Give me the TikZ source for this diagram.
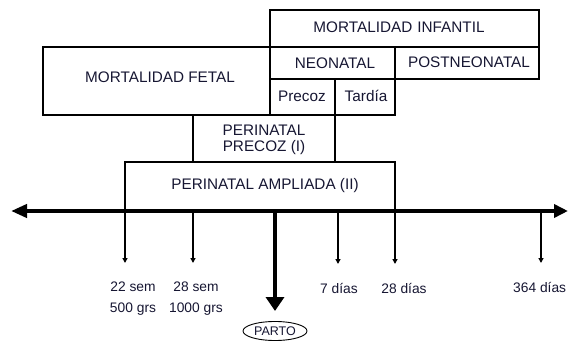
\documentclass[tikz,border=0pt]{standalone}
\usepackage{fontspec}
\setmainfont{Liberation Sans}
\usetikzlibrary{arrows.meta,shapes.geometric}
\definecolor{txt}{RGB}{22,22,50}
\begin{document}
\begin{tikzpicture}[x=1pt,y=-1pt,
  boxline/.style={draw=black,line width=1.4pt},
  lbl/.style={text=txt,font=\fontsize{15.3}{16}\selectfont,inner sep=0pt,align=center},
  small/.style={text=txt,font=\fontsize{13.8}{15}\selectfont,inner sep=0pt},
  tick/.style={line width=1.5pt,-{Triangle[length=5pt,width=5pt]}}]
\useasboundingbox (0,0) rectangle (568,342);
% boxes
\draw[boxline] (270,10) rectangle (539,47);
\draw[boxline] (43,47) rectangle (270,115);
\draw[boxline] (270,47) rectangle (395,79);
\draw[boxline] (395,47) rectangle (539,79);
\draw[boxline] (270,79) rectangle (335,115);
\draw[boxline] (335,79) rectangle (395,115);
\draw[boxline] (193,115) rectangle (335,162);
\draw[boxline] (125,211) -- (125,162) -- (395,162) -- (395,211);
% labels
\node[lbl] (inf) at (399,27) {MORTALIDAD\,\,INFANTIL};
\node[lbl] (fet) at (160,77) {MORTALIDAD FETAL};
\node[lbl] (neo) at (335,63) {NEONATAL};
\node[lbl] (post) at (469,62) {POSTNEONATAL};
\node[lbl] (pre) at (302,96) {Precoz};
\node[lbl] (tar) at (366,96) {Tardía};
\node[lbl,font=\fontsize{15.3}{15.5}\selectfont] (peri) at (264,140) {PERINATAL\\PRECOZ (I)};
\node[lbl] (amp) at (265,186) {PERINATAL AMPLIADA (II)};
% axis
\coordinate (L) at (11,211);
\coordinate (R) at (568,211);
\draw[line width=4pt,{Triangle[length=16pt,width=13pt]}-{Triangle[length=14pt,width=13pt]}] (L) -- (R);
% ticks
\coordinate (a1) at (125,211); \coordinate (b1) at (125,263);
\coordinate (a2) at (193,211); \coordinate (b2) at (193,263);
\coordinate (a3) at (338,211); \coordinate (b3) at (338,264);
\coordinate (a4) at (395,211); \coordinate (b4) at (395,264);
\coordinate (a5) at (541,211); \coordinate (b5) at (541,263);
\draw[tick] (a1) -- (b1);
\draw[tick] (a2) -- (b2);
\draw[tick] (a3) -- (b3);
\draw[tick] (a4) -- (b4);
\draw[tick] (a5) -- (b5);
% parto
\coordinate (pa) at (275,211);
\coordinate (pb) at (275,311);
\node[draw=black,line width=0.9pt,ellipse,minimum width=64pt,minimum height=19pt,inner sep=0pt,text=txt,font=\fontsize{12.5}{14}\selectfont] (parto) at (275,331) {PARTO};
\draw[line width=4.5pt,-{Triangle[length=14pt,width=18pt]}] (pa) -- (pb);
% tick labels
\node[small] (t1) at (133,287) {22 sem};
\node[small] (t1b) at (133,309) {500 grs};
\node[small] (t2) at (196,287) {28 sem};
\node[small] (t2b) at (196,309) {1000 grs};
\node[small] (t3) at (339,288) {7 días};
\node[small] (t4) at (404,288) {28 días};
\node[small,anchor=west] (t5) at (513,287) {364 días};
\end{tikzpicture}
\end{document}
